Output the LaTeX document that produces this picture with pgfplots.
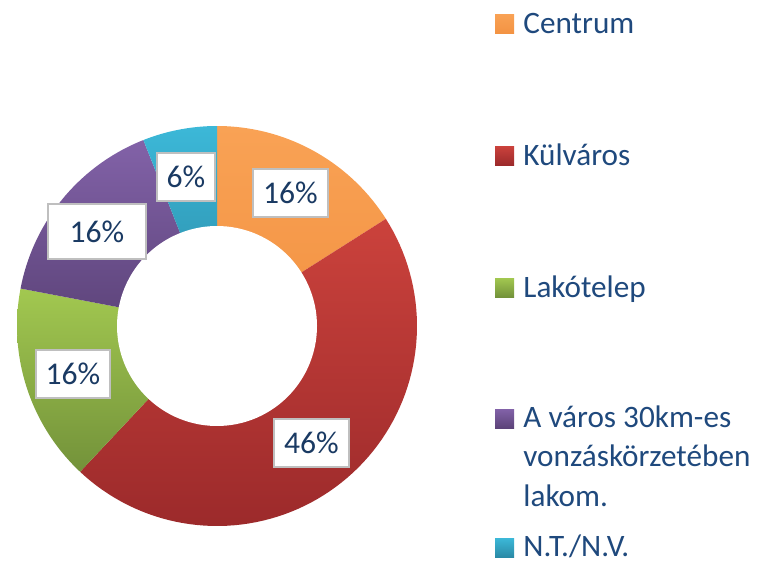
\documentclass[border=0pt]{standalone}
\usepackage{pgfplots}
\pgfplotsset{compat=1.18}
\usepackage{fontspec}
\setmainfont{Carlito}

% slice colours (top / bottom of the gradient)
\definecolor{oraT}{HTML}{F9A255}
\definecolor{oraB}{HTML}{F39343}
\definecolor{redT}{HTML}{CB423C}
\definecolor{redB}{HTML}{9C2A2B}
\definecolor{grnT}{HTML}{A2C850}
\definecolor{grnB}{HTML}{73923A}
\definecolor{purT}{HTML}{8262A8}
\definecolor{purB}{HTML}{5C4379}
\definecolor{cyaT}{HTML}{3CB8D8}
\definecolor{cyaB}{HTML}{2A8AA6}
\definecolor{legtxt}{HTML}{1F497D}
\definecolor{labtxt}{HTML}{1A3A63}

% donut geometry in pixel units of the reference
\newcommand\cx{217}
\newcommand\cy{326}
\newcommand\ro{200}
\newcommand\ri{100}
\newcommand\acur{90}

% one wedge, clockwise from the current angle; #1 = percent
\newcommand{\slice}[3]{%
  \pgfmathsetmacro{\aend}{\acur-3.6*#1}%
  \edef\doslice{\noexpand\addplot[draw=none,top color=#2,bottom color=#3,
      domain=\aend:\acur,samples=80]
    ({\cx+\ro*cos(x)},{\cy-\ro*sin(x)}) -- (axis cs:\cx,\cy) -- cycle;}%
  \doslice
  \xdef\acur{\aend}%
}

\tikzset{lab/.style={draw=black!25,line width=1pt,fill=white,text=labtxt,
    inner xsep=5pt,minimum width=36.5pt,minimum height=24pt,
    font=\fontsize{15.8}{18}\selectfont},
  leg/.style={anchor=base west,text=legtxt,inner sep=0pt,
    font=\fontsize{15.6}{18}\selectfont}}

\begin{document}
\begin{tikzpicture}
\begin{axis}[width=379pt,height=281pt,scale only axis,
    xmin=0,xmax=758,ymin=0,ymax=562,y dir=reverse,
    hide axis,clip=false]
% keep the page the size of the reference
\path (axis cs:0,0) rectangle (axis cs:758,562);
% Centrum, Külváros, Lakótelep, A város 30km-es..., N.T./N.V.
\slice{16}{oraT}{oraB}
\slice{46}{redT}{redB}
\slice{16}{grnT}{grnB}
\slice{16}{purT}{purB}
\slice{6}{cyaT}{cyaB}
% hole
\addplot[draw=none,fill=white,domain=0:360,samples=120]
  ({\cx+\ri*cos(x)},{\cy-\ri*sin(x)}) -- cycle;

% data labels
\node[lab] at (axis cs:290.5,193) {16\%};
\node[lab] at (axis cs:311.5,443) {46\%};
\node[lab] at (axis cs:73,373.5) {16\%};
\node[lab,minimum width=49pt,minimum height=27.5pt] at (axis cs:97,231.5) {16\%};
\node[lab,minimum width=28pt] at (axis cs:186,176.5) {6\%};

% legend
\fill[top color=oraT,bottom color=oraB] (axis cs:495,14) rectangle (axis cs:514,33);
\node[leg] at (axis cs:523,33) {Centrum};
\fill[top color=redT,bottom color=redB] (axis cs:495,146) rectangle (axis cs:514,165);
\node[leg] at (axis cs:523,165) {Külváros};
\fill[top color=grnT,bottom color=grnB] (axis cs:495,278) rectangle (axis cs:514,297);
\node[leg] at (axis cs:523,297) {Lakótelep};
\fill[top color=purT,bottom color=purB] (axis cs:495,409) rectangle (axis cs:514,428);
\node[leg] at (axis cs:523,427) {A város 30km-es};
\node[leg] at (axis cs:523,466.5) {vonzáskörzetében};
\node[leg] at (axis cs:523,506) {lakom.};
\fill[top color=cyaT,bottom color=cyaB] (axis cs:495,538) rectangle (axis cs:514,557);
\node[leg] at (axis cs:523,556) {N.T./N.V.};
\end{axis}
\end{tikzpicture}
\end{document}
